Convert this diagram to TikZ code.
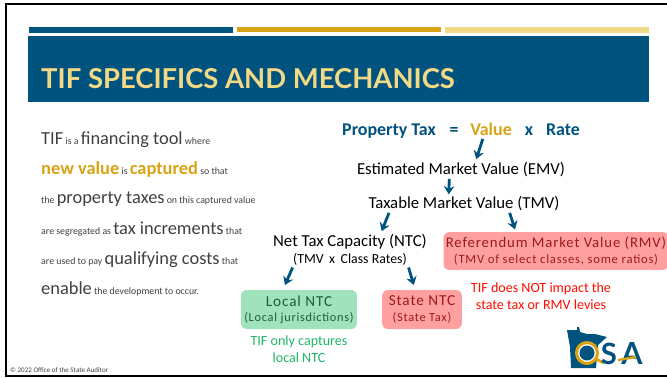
\documentclass[tikz,border=0pt]{standalone}
\usepackage{fontspec}
\setmainfont{Carlito}
\newfontfamily\titlefont{Lato}
\newfontfamily\spacedfont[LetterSpace=6]{Carlito}
\usetikzlibrary{arrows.meta}
\tikzset{>={Stealth[length=7pt,width=9pt]}}
\definecolor{osaBlue}{HTML}{00527F}
\definecolor{osaGold}{HTML}{D8A315}
\definecolor{osaLight}{HTML}{F2D985}
\definecolor{penGrey}{HTML}{404040}
\definecolor{boxRed}{HTML}{FF9F9F}
\definecolor{boxGreen}{HTML}{A0E2BC}
\definecolor{textRed}{HTML}{9C1C1C}
\definecolor{textGreen}{HTML}{1D5E3A}
\definecolor{noteGreen}{HTML}{1FB765}
\tikzset{
  body/.style={anchor=base west,inner sep=0pt,penGrey,font=\fontsize{8.4}{9}\selectfont},
  formula/.style={anchor=base,inner sep=0pt,osaBlue,font=\fontsize{15.3}{17}\selectfont\bfseries},
  level/.style={anchor=base,inner sep=0pt,black,font=\fontsize{14.3}{16}\selectfont},
  taxbox/.style={rounded corners=5pt,inner sep=0pt,align=center},
  note/.style={anchor=base,inner sep=0pt,align=center,font=\fontsize{12}{14}\selectfont},
  flow/.style={->,osaBlue,line width=2.4pt},
}
\newcommand{\bigw}[1]{{\fontsize{15.7}{18}\selectfont #1}}
\begin{document}
\begin{tikzpicture}[x=.03cm,y=-.03cm]
\useasboundingbox (0,0) rectangle (667,378);
% frame of the slide
\draw[black,line width=2pt] (667,4) -- (6,4) -- (6,376) -- (667,376);
% bars and title
\fill[osaBlue] (29,27) rectangle (233,33);
\fill[osaGold] (237,27) rectangle (441,32);
\fill[osaLight] (445,27) rectangle (649,33);
\fill[osaBlue] (28,36) rectangle (649,102);
\node [anchor=base west,inner sep=0pt,osaLight] (title) at (41,88) {\titlefont\bfseries\fontsize{23.4}{26}\selectfont TIF SPECIFICS AND MECHANICS};
% left text
\node [body] (line1) at (41,144) {\bigw{TIF} is a \bigw{financing tool} where};
\node [body] (line2) at (41,174) {\textcolor{osaGold}{\bigw{\textbf{new value}}} is \textcolor{osaGold}{\bigw{\textbf{captured}}} so that};
\node [body] (line3) at (41,203) {the \bigw{property taxes} on this captured value};
\node [body] (line4) at (41,234) {are segregated as \bigw{tax increments} that};
\node [body] (line5) at (41,264) {are used to pay \bigw{qualifying costs} that};
\node [body] (line6) at (41,294) {\bigw{enable} the development to occur.};
\node [anchor=base west,inner sep=0pt,penGrey,font=\fontsize{6}{7}\selectfont] (footer) at (10,372) {© 2022 Office of the State Auditor};
% formula
\node [formula] (ptax) at (389,135) {Property Tax};
\node [formula] (equals) at (454,135) {=};
\node [formula,osaGold] (value) at (491,135) {Value};
\node [formula] (times) at (529,135) {x};
\node [formula] (rate) at (563,135) {Rate};
% levels
\node [level] (emv) at (461,174) {Estimated Market Value (EMV)};
\node [level] (tmv) at (464,208) {Taxable Market Value (TMV)};
\node [level] (ntc) at (350,246) {Net Tax Capacity (NTC)};
\node [level,font=\fontsize{11.8}{13}\selectfont] (ntcsub) at (350,263) {(TMV\, x\, Class Rates)};
% boxes
\node [taxbox,fill=boxRed,text=textRed,minimum width=192pt,minimum height=32.4pt] (rmv) at (556,251) {{\spacedfont\fontsize{12.6}{15}\selectfont Referendum Market Value (RMV)}\\[1pt]{\spacedfont\fontsize{10.8}{12}\selectfont (TMV of select classes, some ratios)}};
\node [taxbox,fill=boxGreen,text=textGreen,minimum width=99pt,minimum height=33.3pt] (local) at (299,309.5) {{\spacedfont\fontsize{13}{15}\selectfont Local NTC}\\[1pt]{\spacedfont\fontsize{10.5}{12}\selectfont (Local jurisdictions)}};
\node [taxbox,fill=boxRed,text=textRed,minimum width=68pt,minimum height=33.3pt] (state) at (422,309.5) {{\spacedfont\fontsize{13}{15}\selectfont State NTC}\\[1pt]{\spacedfont\fontsize{10.5}{12}\selectfont (State Tax)}};
% notes
\node [note,red!90!orange] (notea) at (541,292) {TIF does NOT impact the};
\node [note,red!90!orange] (noteb) at (541,309) {state tax or RMV levies};
\node [note,noteGreen] (notec) at (299,345) {TIF only captures};
\node [note,noteGreen] (noted) at (299,362) {local NTC};
% arrows
\draw[flow] ([xshift=-7pt,yshift=-3pt]value.south) -- ([xshift=13pt,yshift=2pt]emv.north);
\draw[flow] ([xshift=-10pt,yshift=-2pt]emv.south) -- ([xshift=-13pt,yshift=1pt]tmv.north);
\draw[flow] ([xshift=-64pt,yshift=-2pt]tmv.south) -- ([xshift=27pt,yshift=2pt]ntc.north);
\draw[flow] ([xshift=39pt,yshift=-2pt]tmv.south) -- ([xshift=-35pt,yshift=2pt]rmv.north);
\draw[flow] ([xshift=-49pt,yshift=-2pt]ntcsub.south) -- ([xshift=-12pt,yshift=4pt]local.north);
\draw[flow] ([xshift=50pt,yshift=-2pt]ntcsub.south) -- ([xshift=-7pt,yshift=4pt]state.north);
% logo
\fill[osaBlue] (567,330) -- (577,330) -- (577,327) -- (579,327) -- (580,332) -- (587,334) -- (595,334) -- (607,337) -- (598,345) -- (596,368) -- (571,368) -- (570,347) -- cycle;
\draw[osaGold,line width=2.6pt,fill=white] (587,353) circle [radius=10.5];
\fill[osaBlue] (587,353) circle [radius=7.5];
\draw[osaGold,line width=2.4pt] (596,359) -- (604,363);
\node [anchor=base,inner sep=0pt,osaBlue,font=\titlefont\bfseries\fontsize{25}{26}\selectfont] (logos) at (609,364) {S};
\node [anchor=base,inner sep=0pt,osaBlue,font=\titlefont\bfseries\fontsize{26}{27}\selectfont] (logoa) at (632,364) {A};
\draw[osaGold,line width=2pt] (618,360) -- (636,357);
\end{tikzpicture}
\end{document}
